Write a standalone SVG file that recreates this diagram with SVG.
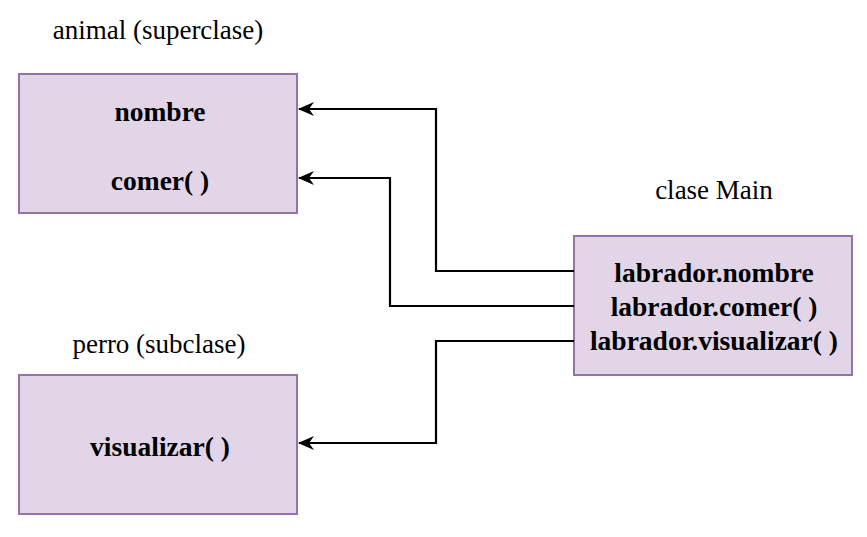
<svg xmlns="http://www.w3.org/2000/svg" width="867" height="537" viewBox="0 0 867 537">
<style>
.box{fill:#e1d5e7;stroke:#9673a6;stroke-width:2}
.t{font-family:'Liberation Serif','Times New Roman',Times,serif;font-size:27.5px;font-weight:bold;fill:#000;text-anchor:middle}
.l{font-family:'Liberation Serif','Times New Roman',Times,serif;font-size:27px;fill:#000;text-anchor:middle}
.c{fill:none;stroke:#000;stroke-width:2.2}
</style>
<defs>
<marker id="a" viewBox="0 0 16 14" refX="15" refY="7" markerWidth="16" markerHeight="14" markerUnits="userSpaceOnUse" orient="auto">
<path d="M0,0 L16,7 L0,14 L5,7 Z" fill="#000"/>
</marker>
</defs>
<text class="l" x="158" y="39">animal (superclase)</text>
<text class="l" x="714" y="199">clase Main</text>
<text class="l" x="159" y="353">perro (subclase)</text>
<g id="animal">
<rect class="box" x="19" y="74" width="278" height="139"/>
<text class="t" x="160" y="121">nombre</text>
<text class="t" x="160" y="190">comer( )</text>
</g>
<g id="perro">
<rect class="box" x="19" y="375" width="278" height="139"/>
<text class="t" x="160" y="456">visualizar( )</text>
</g>
<g id="main">
<rect class="box" x="574" y="236" width="278" height="139"/>
<text class="t" x="714" y="282">labrador.nombre</text>
<text class="t" x="714" y="316">labrador.comer( )</text>
<text class="t" x="714" y="350">labrador.visualizar( )</text>
</g>
<g id="connectors">
<path class="c" d="M574,271 H436 V109 H299" marker-end="url(#a)"/>
<path class="c" d="M574,306 H390 V178 H299" marker-end="url(#a)"/>
<path class="c" d="M574,341 H436 V443 H299" marker-end="url(#a)"/>
</g>
</svg>
